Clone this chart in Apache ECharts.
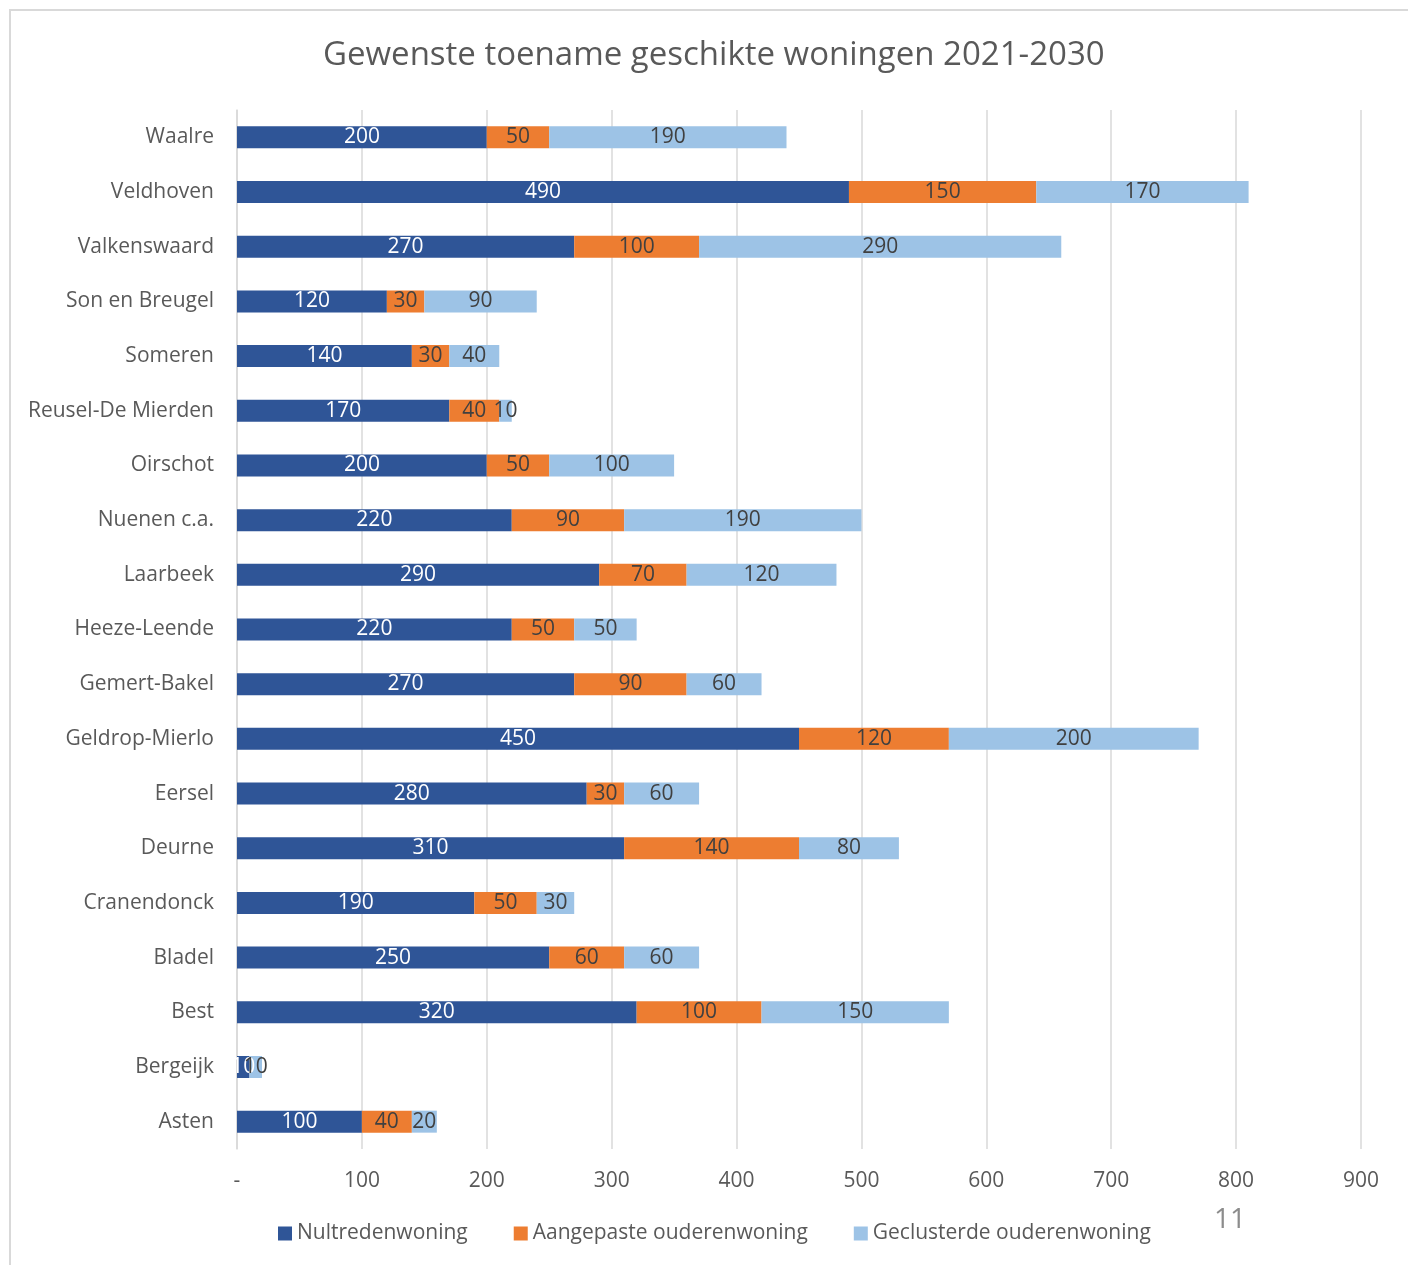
<!DOCTYPE html>
<html>
<head>
<meta charset="utf-8">
<script src="https://cdn.jsdelivr.net/npm/echarts@6/dist/echarts.min.js"></script>
<style>
html,body{margin:0;padding:0;background:#fff;}
#chart{width:1408px;height:1265px;}
</style>
</head>
<body>
<div id="chart"></div>
<script>
const categories = ['Asten','Bergeijk','Best','Bladel','Cranendonck','Deurne','Eersel','Geldrop-Mierlo','Gemert-Bakel','Heeze-Leende','Laarbeek','Nuenen c.a.','Oirschot','Reusel-De Mierden','Someren','Son en Breugel','Valkenswaard','Veldhoven','Waalre'];
const nultreden = [100,10,320,250,190,310,280,450,270,220,290,220,200,170,140,120,270,490,200];
const aangepast = [40,0,100,60,50,140,30,120,90,50,70,90,50,40,30,30,100,150,50];
const geclusterd = [20,10,150,60,30,80,60,200,60,50,120,190,100,10,40,90,290,170,190];
const seriesNames = ['Nultredenwoning','Aangepaste ouderenwoning','Geclusterde ouderenwoning'];
const axisTicks = [0,100,200,300,400,500,600,700,800,900];

const FONT = '"Open Sans", "Noto Sans", sans-serif';
const chart = echarts.init(document.getElementById('chart'), null, {renderer:'canvas'});

function mkSeries(name, data, color, labelColor){
  return {
    name: name, type:'bar', stack:'total', data: data, barWidth: 22,
    itemStyle:{color: color},
    label:{show:true, position:'inside', color: labelColor, fontSize:21, fontFamily: FONT,
      formatter: p => p.value === 0 ? '' : String(p.value)}
  };
}

chart.setOption({
  animation:false,
  backgroundColor:'#fff',
  textStyle:{fontFamily: FONT},
  title:{
    text:'Gewenste toename geschikte woningen 2021-2030',
    left:318, top:34,
    textStyle:{fontSize:33, fontWeight:'normal', color:'#595959', fontFamily: FONT}
  },
  legend:{
    data: seriesNames, bottom:16, left:273,
    itemWidth:14, itemHeight:14, itemGap:46, icon:'rect',
    textStyle:{fontSize:21, color:'#595959', fontFamily: FONT}
  },
  grid:{left:237, right:47, top:110, bottom:116, containLabel:false},
  xAxis:{
    type:'value', min:axisTicks[0], max:axisTicks[axisTicks.length-1], interval:100,
    axisLine:{show:false}, axisTick:{show:false},
    splitLine:{show:true, lineStyle:{color:'#D9D9D9', width:1.5}},
    axisLabel:{fontSize:21, color:'#595959', margin:22, fontFamily: FONT,
      formatter: v => v === 0 ? '-' : String(v)}
  },
  yAxis:{
    type:'category', data: categories,
    axisLine:{show:true, lineStyle:{color:'#D9D9D9', width:1.5}},
    axisTick:{show:false},
    axisLabel:{fontSize:21, color:'#595959', margin:23, fontFamily: FONT}
  },
  series:[
    mkSeries(seriesNames[0], nultreden, '#2F5597', '#FFFFFF'),
    mkSeries(seriesNames[1], aangepast, '#ED7D31', '#404040'),
    mkSeries(seriesNames[2], geclusterd, '#9DC3E6', '#404040')
  ],
  graphic:[
    {type:'rect', shape:{x:10, y:10, width:1420, height:1300}, style:{fill:'none', stroke:'#D9D9D9', lineWidth:2}, silent:true, z:-1},
    {type:'text', left:1214, top:1206, style:{text:'11', fontSize:28, fill:'#8C8C8C', fontFamily: FONT}}
  ]
});
</script>
</body>
</html>
